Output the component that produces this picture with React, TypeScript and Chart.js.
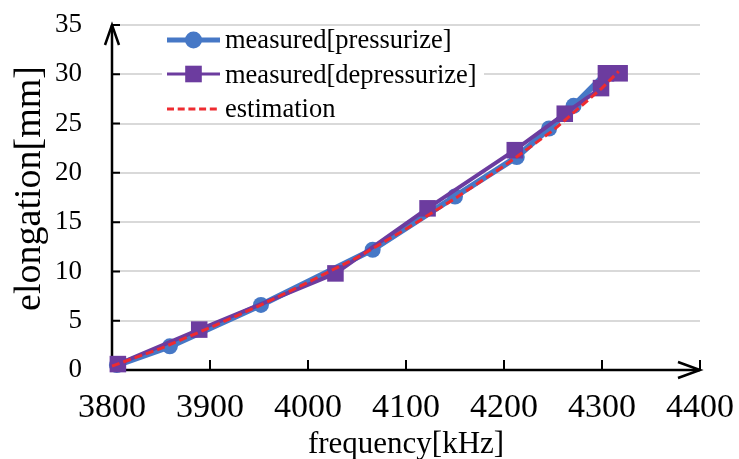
import React, { useEffect, useRef } from 'react';
import { Chart, registerables } from 'chart.js';

Chart.register(...registerables);

// ---- data ----
const pressFreq = [3805, 3859, 3952, 4066, 4150, 4213, 4246, 4271, 4304];
const pressElong = [0.5, 2.4, 6.6, 12.2, 17.6, 21.6, 24.5, 26.8, 30.1];

const depFreq = [3806, 3889, 4028, 4122, 4211, 4262, 4299, 4304, 4318];
const depElong = [0.6, 4.1, 9.8, 16.4, 22.3, 26.0, 28.6, 30.1, 30.1];

const estFreq = [3800, 3850, 3900, 3950, 4000, 4050, 4100, 4150, 4200, 4250, 4300, 4317];
const estElong = [0.4, 2.2, 4.3, 6.5, 8.9, 11.4, 14.3, 17.4, 20.7, 24.3, 28.6, 30.3];

const xTicks = [3800, 3900, 4000, 4100, 4200, 4300, 4400];
const yTicks = [0, 5, 10, 15, 20, 25, 30, 35];

const seriesLabels = ['measured[pressurize]', 'measured[depressurize]', 'estimation'];
const xTitle = 'frequency[kHz]';
const yTitle = 'elongation[mm]';

const BLUE = '#4678C6';
const PURPLE = '#6C3C9F';
const RED = '#EE2B30';
const FONT = "'Liberation Serif', 'Times New Roman', serif";

const toPoints = (xs: number[], ys: number[]) => xs.map((v, i) => ({ x: v, y: ys[i] }));

const decorPlugin = {
  id: 'decor',
  beforeDatasetsDraw(chart: any) {
    const { ctx, scales } = chart;
    const x = scales.x;
    const y = scales.y;
    const x0 = x.getPixelForValue(xTicks[0]);
    const x1 = x.getPixelForValue(xTicks[xTicks.length - 1]);
    const y0 = y.getPixelForValue(yTicks[0]);
    const y1 = y.getPixelForValue(yTicks[yTicks.length - 1]);
    ctx.save();
    ctx.strokeStyle = '#000';
    ctx.lineWidth = 2.5;
    ctx.lineCap = 'butt';
    ctx.beginPath();
    ctx.moveTo(x0, y0);
    ctx.lineTo(x0, y1);
    ctx.moveTo(x0 - 1.25, y0);
    ctx.lineTo(x1, y0);
    ctx.stroke();
    // arrows
    ctx.beginPath();
    ctx.moveTo(x0 - 7, y1 + 20);
    ctx.lineTo(x0, y1);
    ctx.lineTo(x0 + 7, y1 + 20);
    ctx.moveTo(x1 - 22, y0 - 8);
    ctx.lineTo(x1, y0);
    ctx.lineTo(x1 - 22, y0 + 8);
    ctx.stroke();
    // inside tick marks
    ctx.lineWidth = 2;
    ctx.beginPath();
    xTicks.slice(1).forEach((t) => {
      const px = x.getPixelForValue(t);
      ctx.moveTo(px, y0);
      ctx.lineTo(px, y0 - 10);
    });
    yTicks.slice(1).forEach((t) => {
      const py = y.getPixelForValue(t);
      ctx.moveTo(x0, py);
      ctx.lineTo(x0 + 8, py);
    });
    ctx.stroke();
    ctx.restore();
  },
  afterDraw(chart: any) {
    const { ctx, chartArea } = chart;
    ctx.save();
    // titles
    ctx.fillStyle = '#000';
    ctx.font = `31px ${FONT}`;
    ctx.textAlign = 'center';
    ctx.textBaseline = 'alphabetic';
    ctx.fillText(xTitle, (chartArea.left + chartArea.right) / 2, 452.5);
    ctx.save();
    ctx.translate(40, 188.5);
    ctx.rotate(-Math.PI / 2);
    ctx.font = `38px ${FONT}`;
    ctx.fillText(yTitle, 0, 0);
    ctx.restore();

    // legend
    ctx.fillStyle = '#fff';
    ctx.fillRect(162, 28, 322, 91);
    const rows = [40, 74, 109];
    const baselines = [48.3, 83.3, 117];
    const lx0 = 167;
    const lx1 = 220;
    const mx = 193.5;
    // row 1
    ctx.strokeStyle = BLUE;
    ctx.lineWidth = 5;
    ctx.beginPath();
    ctx.moveTo(lx0, rows[0]);
    ctx.lineTo(lx1, rows[0]);
    ctx.stroke();
    ctx.fillStyle = BLUE;
    ctx.beginPath();
    ctx.arc(mx, rows[0], 8.5, 0, Math.PI * 2);
    ctx.fill();
    // row 2
    ctx.strokeStyle = PURPLE;
    ctx.lineWidth = 3;
    ctx.beginPath();
    ctx.moveTo(lx0, rows[1]);
    ctx.lineTo(lx1, rows[1]);
    ctx.stroke();
    ctx.fillStyle = PURPLE;
    ctx.fillRect(mx - 8.3, rows[1] - 8.3, 16.6, 16.6);
    // row 3
    ctx.strokeStyle = RED;
    ctx.lineWidth = 3;
    ctx.setLineDash([7, 3.7]);
    ctx.beginPath();
    ctx.moveTo(lx0, rows[2]);
    ctx.lineTo(lx1, rows[2]);
    ctx.stroke();
    ctx.setLineDash([]);
    // texts
    ctx.fillStyle = '#000';
    ctx.font = `26.5px ${FONT}`;
    ctx.textAlign = 'left';
    ctx.textBaseline = 'alphabetic';
    seriesLabels.forEach((s, i) => ctx.fillText(s, 225, baselines[i]));
    ctx.restore();
  },
};

export default function App() {
  const ref = useRef<HTMLCanvasElement | null>(null);
  useEffect(() => {
    if (!ref.current) return;
    const chart = new Chart(ref.current, {
      type: 'line',
      data: {
        datasets: [
          {
            label: seriesLabels[2],
            data: toPoints(estFreq, estElong),
            borderColor: RED,
            borderWidth: 3,
            borderDash: [8, 4],
            pointRadius: 0,
            fill: false,
            order: 1,
            clip: false as any,
          },
          {
            label: seriesLabels[1],
            data: toPoints(depFreq, depElong),
            borderColor: PURPLE,
            backgroundColor: PURPLE,
            borderWidth: 4,
            pointStyle: 'rect',
            pointRadius: 11.7,
            pointBorderWidth: 0,
            pointBackgroundColor: PURPLE,
            fill: false,
            order: 2,
            clip: false as any,
          },
          {
            label: seriesLabels[0],
            data: toPoints(pressFreq, pressElong),
            borderColor: BLUE,
            backgroundColor: BLUE,
            borderWidth: 6,
            pointStyle: 'circle',
            pointRadius: 8,
            pointBorderWidth: 0,
            pointBackgroundColor: BLUE,
            fill: false,
            order: 3,
            clip: false as any,
          },
        ],
      },
      options: {
        responsive: false,
        animation: false,
        layout: { padding: { top: 25, right: 39, left: 0, bottom: 0 } },
        plugins: { legend: { display: false }, tooltip: { enabled: false } },
        scales: {
          x: {
            type: 'linear',
            min: xTicks[0],
            max: xTicks[xTicks.length - 1],
            afterFit: (s: any) => {
              s.height = 89;
              s.paddingLeft = 0;
              s.paddingRight = 0;
              s.paddingTop = 0;
              s.paddingBottom = 0;
            },
            afterBuildTicks: (s: any) => {
              s.ticks = xTicks.map((v) => ({ value: v }));
            },
            ticks: {
              color: '#000',
              font: { family: FONT, size: 34 },
              padding: 18,
              maxRotation: 0,
              minRotation: 0,
              autoSkip: false,
              callback: (v: any) => String(v),
            },
            grid: { display: false, drawTicks: false },
            border: { display: false },
          },
          y: {
            type: 'linear',
            min: yTicks[0],
            max: yTicks[yTicks.length - 1],
            afterFit: (s: any) => {
              s.width = 112;
              s.paddingLeft = 0;
              s.paddingRight = 0;
              s.paddingTop = 0;
              s.paddingBottom = 0;
            },
            afterBuildTicks: (s: any) => {
              s.ticks = yTicks.map((v) => ({ value: v }));
            },
            ticks: {
              color: '#000',
              font: { family: FONT, size: 27 },
              padding: 30,
              autoSkip: false,
              callback: (v: any) => String(v),
            },
            grid: { color: '#D9D9D9', lineWidth: 2, drawTicks: false },
            border: { display: false },
          },
        },
      },
      plugins: [decorPlugin],
    });
    return () => chart.destroy();
  }, []);
  return (
    <div style={{ position: 'absolute', left: 0, top: 0, width: 739, height: 459, background: '#fff' }}>
      <canvas ref={ref} width={739} height={459} style={{ display: 'block' }} />
    </div>
  );
}
